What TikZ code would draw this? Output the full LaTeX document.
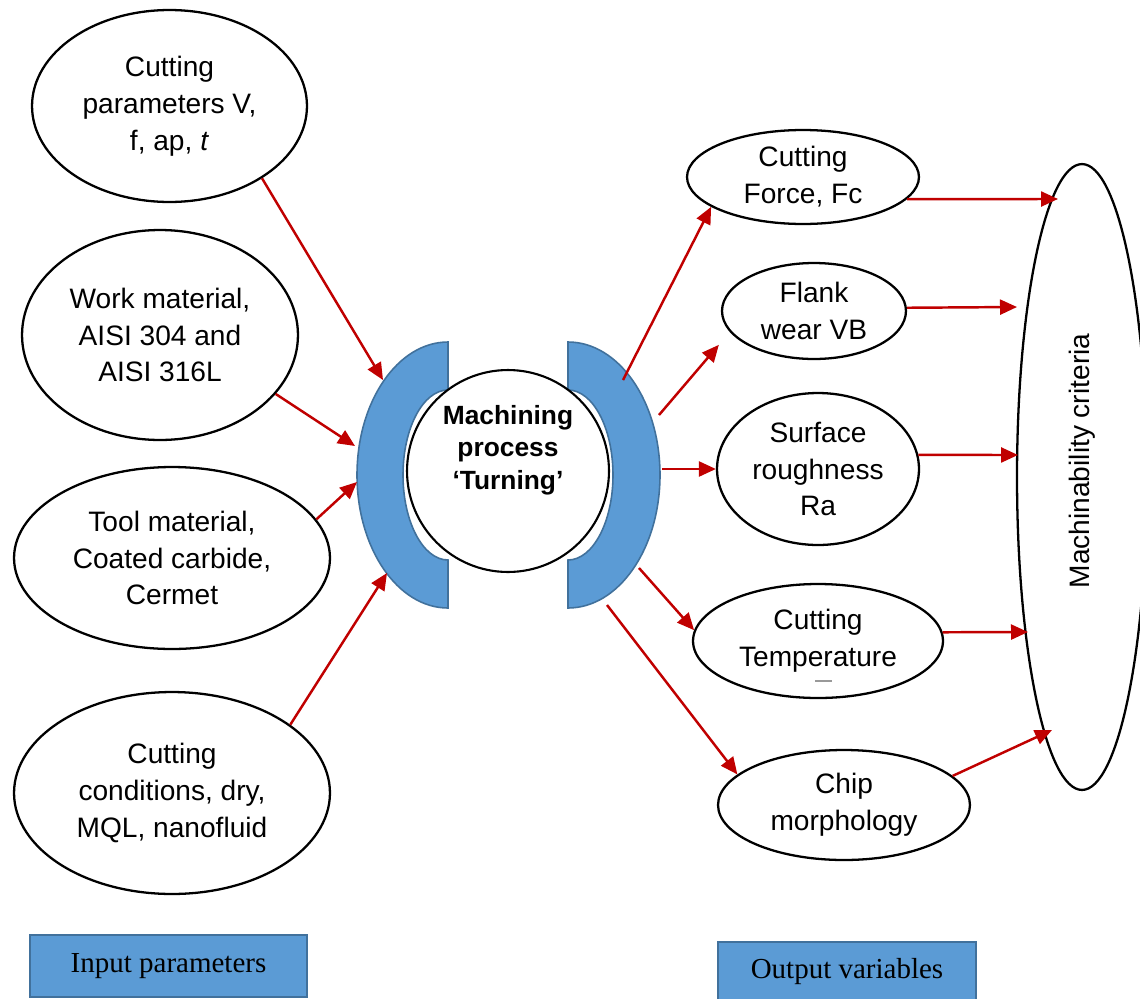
\documentclass[tikz,border=0pt]{standalone}
\usepackage{fontspec}
\usepackage{graphicx}
\setmainfont{Liberation Sans}
\newfontfamily\legendfont{Liberation Serif}
\usepackage{tikz}
\usetikzlibrary{shapes.geometric,arrows.meta}
\definecolor{brkblue}{HTML}{5B9BD5}
\definecolor{brkedge}{HTML}{41719C}
\definecolor{arrred}{HTML}{C00000}
\tikzset{
  oval/.style={ellipse, draw, line width=1.3pt, inner sep=0pt, align=center,
    font=\fontsize{16}{21}\selectfont},
  redarr/.style={draw=arrred, line width=1.4pt, -{Triangle[length=0.34cm,width=0.3cm]}},
  legendbox/.style={draw=brkedge, line width=1.2pt, fill=brkblue, inner sep=0pt,
    font=\legendfont\fontsize{16.5}{20}\selectfont},
  bracket/.style={draw=brkedge, line width=0.9pt, fill=brkblue}
}

\begin{document}
\begin{tikzpicture}[x=0.02cm,y=-0.02cm]
   \useasboundingbox (0,0) rectangle (1140,998);

   % input parameters
   \node[oval, minimum width=5.5cm, minimum height=3.84cm] (cutpar) at (169.5,106)
      {Cutting\\parameters V,\\f, ap, \textit{t}};
   \node[oval, minimum width=5.52cm, minimum height=4.2cm] (workmat) at (160,335)
      {Work material,\\AISI 304 and\\AISI 316L};
   \node[oval, minimum width=6.32cm, minimum height=3.64cm] (toolmat) at (172,558)
      {Tool material,\\Coated carbide,\\Cermet};
   \node[oval, minimum width=6.32cm, minimum height=4.04cm] (cutcond) at (172,793)
      {Cutting\\conditions, dry,\\MQL, nanofluid};

   % the process
   \draw[bracket] (448,342) arc[start angle=270, end angle=90, x radius=91, y radius=133]
      -- (448,560) arc[start angle=90, end angle=270, x radius=45, y radius=85] -- cycle;
   \draw[bracket] (568,342) arc[start angle=270, end angle=450, x radius=92, y radius=133]
      -- (568,560) arc[start angle=90, end angle=-90, x radius=45, y radius=85] -- cycle;
   \node[circle, draw, fill=white, line width=1.2pt, minimum size=4.04cm] (proc) at (508,471) {};
   \node[align=center, font=\bfseries\fontsize{15}{18.5}\selectfont] (proctxt) at (508,450)
      {Machining\\process\\‘Turning’};

   \coordinate (lb1) at (383,380);
   \coordinate (lb2) at (355,446);
   \coordinate (lb3) at (357,482);
   \coordinate (lb4) at (387,573);
   \coordinate (rb1) at (623,380);
   \coordinate (rb2) at (659,415);
   \coordinate (rb3) at (662,469);
   \coordinate (rb4) at (639,568);
   \coordinate (rb5) at (607,605);

   % output variables
   \node[oval, minimum width=4.64cm, minimum height=1.88cm] (force) at (803,177)
      {Cutting\\Force, Fc};
   \node[oval, minimum width=3.68cm, minimum height=1.92cm] (flank) at (814,311)
      {Flank\\wear VB};
   \node[oval, minimum width=4.04cm, minimum height=3.04cm] (rough) at (818,469)
      {Surface\\roughness\\Ra};
   \node[oval, minimum width=5.0cm, minimum height=2.28cm] (temp) at (818,641)
      {Cutting\\Temperature};
   \draw[gray!80, line width=0.6pt] (815,681) -- (832,681);
   \node[oval, minimum width=5.04cm, minimum height=2.2cm] (chip) at (844,805)
      {Chip\\morphology};

   \node[oval, minimum width=2.6cm, minimum height=12.52cm] (mc) at (1082,477)
      {\rotatebox{90}{\hspace*{0.64cm}Machinability criteria}};
   \coordinate (mc1) at (1058,199);
   \coordinate (mc2) at (1017,307);
   \coordinate (mc3) at (1018,455);
   \coordinate (mc4) at (1028,632);
   \coordinate (mc5) at (1052,730);

   % arrows
   \draw[redarr] (cutpar.-38) -- (lb1);
   \draw[redarr] (workmat.-27) -- (lb2);
   \draw[redarr] (toolmat.15) -- (lb3);
   \draw[redarr] (cutcond.30) -- (lb4);

   \draw[redarr] (rb1) -- (force.-162);
   \draw[redarr, shorten >=9.6pt] (rb2) -- (flank.-166);
   \draw[redarr] (rb3) -- (rough.180);
   \draw[redarr] (rb4) -- (temp.175);
   \draw[redarr] (rb5) -- (chip.164);

   \draw[redarr] (force.-12) -- (mc1);
   \draw[redarr] (flank.2) -- (mc2);
   \draw[redarr] (rough.8) -- (mc3);
   \draw[redarr] (temp.4) -- (mc4);
   \draw[redarr] (chip.15) -- (mc5);

   % legend
   \node[legendbox, minimum width=5.54cm, minimum height=1.24cm] (inpar) at (168.5,966)
      {Input parameters};
   \node[legendbox, minimum width=5.16cm, minimum height=1.2cm] (outvar) at (847,972)
      {Output variables};
\end{tikzpicture}
\end{document}
